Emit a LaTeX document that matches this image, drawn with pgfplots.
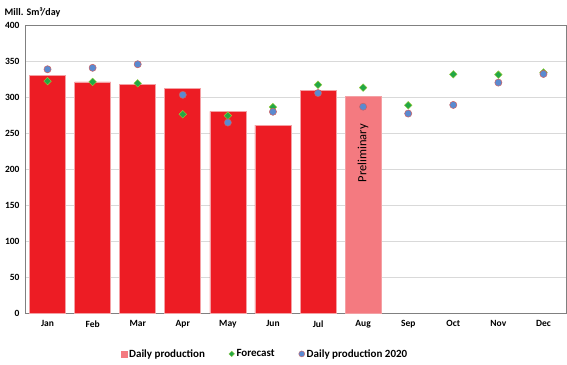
\documentclass[border=0pt]{standalone}
\usepackage{pgfplots}
\pgfplotsset{compat=1.18}
\usepackage{fontspec}
\setmainfont{Carlito}
\definecolor{barred}{HTML}{ED1C24}
\definecolor{barpink}{HTML}{F47A80}
\definecolor{edgepink}{HTML}{F4A0A4}
\definecolor{fgreen}{HTML}{22A845}
\definecolor{fgreenedge}{HTML}{9CCB3B}
\definecolor{dblue}{HTML}{5A8AD0}
\definecolor{dblueedge}{HTML}{D06060}
\begin{document}
\begin{tikzpicture}
\begin{axis}[
  name=ax,
  scale only axis, width=541pt, height=288pt,
  xmin=-0.5, xmax=11.5, ymin=0, ymax=400,
  xtick={0,...,11},
  xticklabels={Jan,Feb,Mar,Apr,May,Jun,Jul,Aug,Sep,Oct,Nov,Dec},
  ytick={0,50,...,400},
  tick style={draw=none},
  ymajorgrids, grid style={draw=black!15, line width=0.8pt},
  axis line style={draw=black!50, line width=0.8pt},
  tick label style={font=\bfseries\fontsize{9.5}{11}\selectfont},
  /pgf/number format/assume math mode=true,
  yticklabel style={xshift=-2pt},
  xticklabel style={yshift=-4pt},
  clip=false,
  legend style={at={(rel axis cs:0.444,-0.142)}, anchor=center, draw=none, legend columns=-1,
    font=\bfseries\fontsize{11}{13}\selectfont, /tikz/every even column/.append style={column sep=22pt},
    legend cell align=left},
]
\addplot[ybar, bar width=36pt, fill=barred, draw=edgepink, line width=0.6pt, forget plot]
  coordinates {(0,330) (1,321) (2,318) (3,312) (4,280) (5,261) (6,309)};
\addplot[ybar, bar width=36pt, fill=barpink, draw=edgepink, line width=0.6pt, forget plot]
  coordinates {(7,301)};
\addplot[only marks, mark=square*, mark size=2.7pt, mark options={rotate=45, fill=fgreen, draw=fgreenedge, line width=0.4pt}, forget plot]
  coordinates {(0,322) (1,321) (2,319) (3,276) (4,274) (5,286) (6,317) (7,313) (8,288.5) (9,331.5) (10,331) (11,334)};
\addplot[only marks, mark=*, mark size=3.6pt, mark options={fill=dblue, draw=dblueedge, line width=0.5pt}, forget plot]
  coordinates {(0,338.5) (1,340.5) (2,345.5) (3,303) (4,264.5) (5,279.5) (6,305.5) (7,286.5) (8,277) (9,289) (10,320) (11,332)};
\addlegendimage{only marks, mark=square*, mark size=3pt, mark options={fill=barpink, draw=barpink}}
\addlegendentry{Daily production}
\addlegendimage{only marks, mark=square*, mark size=2pt, mark options={rotate=45, fill=fgreen, draw=fgreenedge, line width=0.3pt}}
\addlegendentry{Forecast}
\addlegendimage{only marks, mark=*, mark size=3pt, mark options={fill=dblue, draw=dblueedge, line width=0.4pt}}
\addlegendentry{Daily production 2020}
\node[rotate=90, font=\fontsize{12.5}{14}\selectfont] at (axis cs:7,222) {Preliminary};
\node[anchor=west, font=\bfseries\fontsize{10}{12}\selectfont] at (rel axis cs:-0.044,1.045) {Mill. Sm³/day};
\end{axis}
\pgfresetboundingbox
\useasboundingbox ([shift={(-25pt,-51pt)}]ax.south west) rectangle ++(567pt,364pt);
\end{tikzpicture}
\end{document}
